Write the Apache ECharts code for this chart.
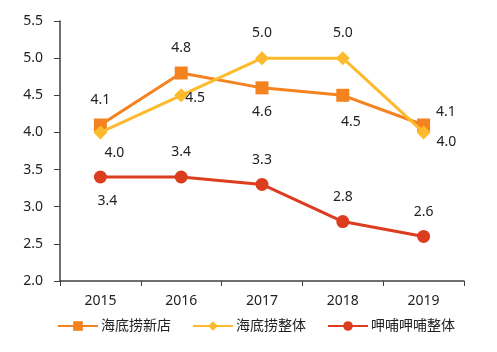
<!DOCTYPE html>
<html>
<head>
<meta charset="utf-8">
<script src="https://cdn.jsdelivr.net/npm/echarts@6/dist/echarts.min.js"></script>
<style>
  html, body { margin: 0; padding: 0; background: #fff; }
  #chart { width: 497px; height: 352px; }
</style>
</head>
<body>
<div id="chart"></div>
<script>
// 数据
const years = ['2015', '2016', '2017', '2018', '2019']
const hdlNew = [4.1, 4.8, 4.6, 4.5, 4.1]
const hdlAll = [4.0, 4.5, 5.0, 5.0, 4.0]
const xbAll = [3.4, 3.4, 3.3, 2.8, 2.6]

const font = '"Noto Sans", "Noto Sans CJK SC", sans-serif'

// 每个点标签的位置
function withLabels(values, places) {
    return values.map((v, i) => ({
        value: v,
        label: places[i]
    }))
}

const above = { position: 'top', distance: 11 }
const below = { position: 'bottom', distance: 11 }

let option = {
    animation: false,
    textStyle: { fontFamily: font },
    grid: {
        left: 60,
        right: 33,
        top: 21,
        bottom: 71
    },
    legend: {
        bottom: 14,
        left: 52,
        itemWidth: 40,
        itemHeight: 12,
        itemGap: 21,
        textStyle: { fontSize: 14, color: '#222', fontFamily: font, padding: [0, 0, 0, -2] },
        data: ['海底捞新店', '海底捞整体', '呷哺呷哺整体']
    },
    xAxis: {
        type: 'category',
        data: years,
        boundaryGap: true,
        axisLine: { lineStyle: { color: '#404040', width: 1.5 } },
        axisTick: { show: true, length: 5, lineStyle: { color: '#404040' } },
        axisLabel: { color: '#222', fontSize: 14, margin: 13 }
    },
    yAxis: {
        type: 'value',
        min: 2.0,
        max: 5.5,
        interval: 0.5,
        splitLine: { show: false },
        axisLine: { show: true, lineStyle: { color: '#404040', width: 1.5 } },
        axisTick: { show: true, length: 6, lineStyle: { color: '#404040' } },
        axisLabel: {
            color: '#222',
            fontSize: 14,
            margin: 17,
            formatter: v => v.toFixed(1)
        }
    },
    series: [{
            name: '海底捞新店',
            type: 'line',
            symbol: 'rect',
            symbolSize: 13,
            color: '#F4821F',
            lineStyle: { width: 3 },
            label: { show: true, color: '#222', fontSize: 14, formatter: p => p.value.toFixed(1) },
            data: withLabels(hdlNew, [
                above,
                above,
                below,
                { position: 'bottom', distance: 13, offset: [8, 0] },
                { position: 'right', distance: 6, offset: [0, -13] }
            ]),
            z: 2
        },
        {
            name: '海底捞整体',
            type: 'line',
            symbol: 'diamond',
            symbolSize: 14,
            color: '#FDBA2C',
            lineStyle: { width: 3 },
            label: { show: true, color: '#222', fontSize: 14, formatter: p => p.value.toFixed(1) },
            data: withLabels(hdlAll, [
                { position: 'bottom', distance: 7, offset: [14, 0] },
                { position: 'right', distance: -3, offset: [0, 3] },
                above,
                above,
                { position: 'right', distance: 6, offset: [0, 10] }
            ]),
            z: 3
        },
        {
            name: '呷哺呷哺整体',
            type: 'line',
            symbol: 'circle',
            symbolSize: 13,
            color: '#DC3D1E',
            lineStyle: { width: 3 },
            label: { show: true, color: '#222', fontSize: 14, formatter: p => p.value.toFixed(1) },
            data: withLabels(xbAll, [
                { position: 'bottom', distance: 11, offset: [7, 0] },
                above,
                above,
                above,
                above
            ]),
            z: 1
        }
    ]
}

let chart = echarts.init(document.getElementById('chart'))
chart.setOption(option)
</script>
</body>
</html>
